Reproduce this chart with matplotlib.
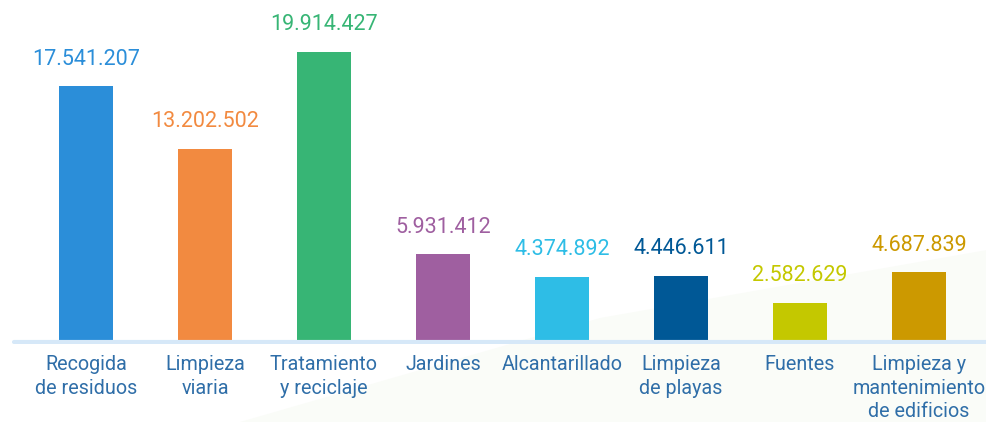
import matplotlib
matplotlib.use("Agg")
import matplotlib.pyplot as plt
from matplotlib.patches import Polygon
import numpy as np

categories = ["Recogida\nde residuos", "Limpieza\nviaria", "Tratamiento\ny reciclaje",
              "Jardines", "Alcantarillado", "Limpieza\nde playas", "Fuentes",
              "Limpieza y\nmantenimiento\nde edificios"]
values = [17541207, 13202502, 19914427, 5931412, 4374892, 4446611, 2582629, 4687839]
labels = ["17.541.207", "13.202.502", "19.914.427", "5.931.412", "4.374.892",
          "4.446.611", "2.582.629", "4.687.839"]
colors = ["#2b8ed9", "#f28a40", "#37b575", "#9f5fa0", "#2ebde6", "#005896",
          "#c4c800", "#cc9900"]

plt.rcParams['font.family'] = ['Roboto', 'DejaVu Sans']

W, H = 987, 422
fig = plt.figure(figsize=(W / 100, H / 100), dpi=100)
fig.patch.set_facecolor("white")

# subtle background shading (lower right)
bg = fig.add_axes([0, 0, 1, 1], zorder=0)
bg.set_xlim(0, W)
bg.set_ylim(H, 0)
bg.axis("off")
bg.add_patch(Polygon([[240, 422], [600, 318], [987, 250], [987, 422]],
                     closed=True, facecolor="#fafcf8", edgecolor="none"))

px_per_unit = 288 / 19914427.0
ax = fig.add_axes([0, 78 / H, 1, 344 / H], zorder=1)
ax.patch.set_alpha(0)
x = np.arange(len(values))
ax.set_xlim(-86 / 119, (987 - 86) / 119)
ax.set_ylim(-4 / px_per_unit, 340 / px_per_unit)

ax.bar(x, values, width=54 / 119, color=colors, zorder=2)
ax.axhline(-2 / px_per_unit, xmin=14 / W, xmax=1, color="#d6e8f8", lw=3,
           solid_capstyle="round", zorder=3)

for xi, v, lab, c in zip(x, values, labels, colors):
    ax.annotate(lab, (xi, v), xytext=(0, 12), textcoords="offset points",
                ha="center", va="bottom", fontsize=15.5, color=c)

ax.set_xticks(x)
ax.set_xticklabels(categories, fontsize=14.2, color="#2f6ea8", linespacing=1.3)
ax.tick_params(axis="x", length=0, pad=8)
ax.tick_params(axis="y", left=False, labelleft=False)
for s in ax.spines.values():
    s.set_visible(False)

fig.savefig("out.png", dpi=100)
